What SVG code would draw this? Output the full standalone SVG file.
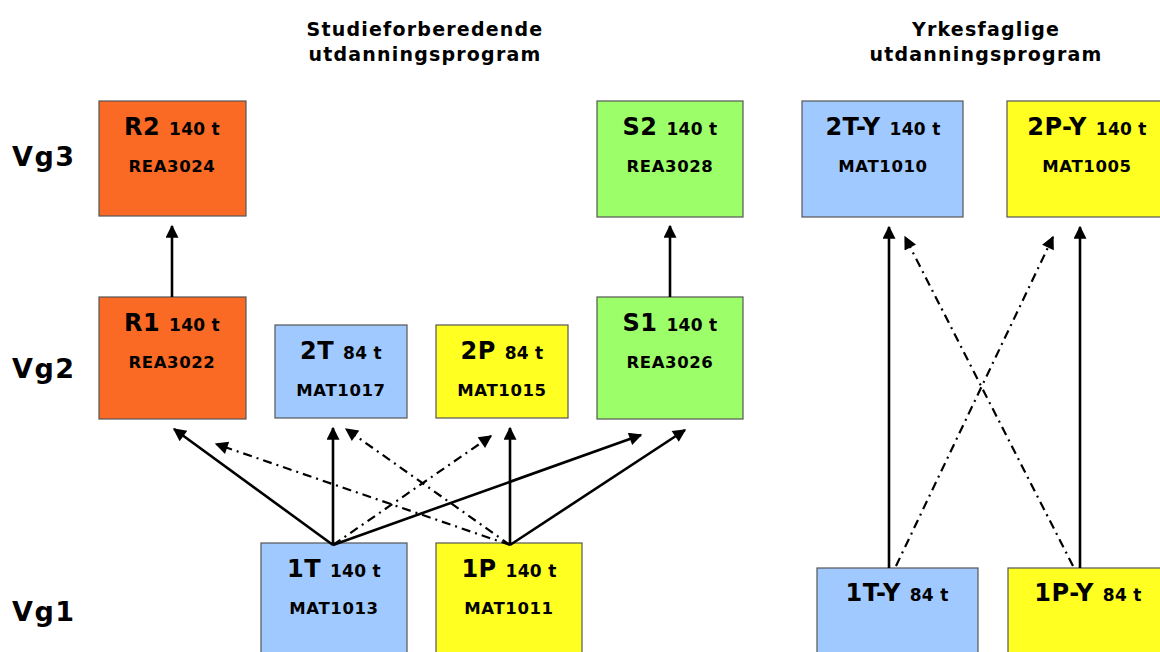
<svg xmlns="http://www.w3.org/2000/svg" width="1160" height="652" viewBox="0 0 1160 652">
<style>
text{font-family:"DejaVu Sans",Verdana,sans-serif;font-weight:bold;fill:#000}
.box{stroke:#555;stroke-width:1.2}
.or{fill:#FA6A24}.bl{fill:#A0C9FF}.ye{fill:#FFFF22}.gr{fill:#9CFF6A}
.t{font-size:24px;text-anchor:middle;letter-spacing:0.5px}
.h{font-size:17px;letter-spacing:0.3px}
.c{font-size:16.5px;text-anchor:middle;letter-spacing:0.6px}
.hd{font-size:19px;text-anchor:middle;letter-spacing:1.2px}
.vg{font-size:27px;letter-spacing:1.5px}
.s{stroke:#000;stroke-width:2.6;fill:none;marker-end:url(#ah)}
.d{stroke:#000;stroke-width:2.2;fill:none;stroke-dasharray:9 5 2 5;marker-end:url(#ah)}
</style>
<defs>
<marker id="ah" viewBox="0 0 10 10" refX="9" refY="5" markerWidth="15" markerHeight="13" markerUnits="userSpaceOnUse" orient="auto"><path d="M0,0 L10,5 L0,10 z" fill="#000"/></marker>
</defs>
<rect width="1160" height="652" fill="#fff"/>
<text class="hd" x="425" y="36">Studieforberedende</text>
<text class="hd" x="425" y="61">utdanningsprogram</text>
<text class="hd" x="986" y="36">Yrkesfaglige</text>
<text class="hd" x="986" y="61">utdanningsprogram</text>
<text class="vg" x="12" y="166">Vg3</text>
<text class="vg" x="12" y="378">Vg2</text>
<text class="vg" x="12" y="621">Vg1</text>
<g id="R2"><rect class="box or" x="99" y="101" width="147" height="115"/><text class="t" x="172" y="135">R2 <tspan class="h">140 t</tspan></text><text class="c" x="172" y="172">REA3024</text></g>
<g id="S2"><rect class="box gr" x="597" y="101" width="146" height="116"/><text class="t" x="670" y="135">S2 <tspan class="h">140 t</tspan></text><text class="c" x="670" y="172">REA3028</text></g>
<g id="R1"><rect class="box or" x="99" y="297" width="147" height="122"/><text class="t" x="172" y="331">R1 <tspan class="h">140 t</tspan></text><text class="c" x="172" y="368">REA3022</text></g>
<g id="T2"><rect class="box bl" x="275" y="325" width="132" height="93"/><text class="t" x="341" y="359">2T <tspan class="h">84 t</tspan></text><text class="c" x="341" y="396">MAT1017</text></g>
<g id="P2"><rect class="box ye" x="436" y="325" width="132" height="93"/><text class="t" x="502" y="359">2P <tspan class="h">84 t</tspan></text><text class="c" x="502" y="396">MAT1015</text></g>
<g id="S1"><rect class="box gr" x="597" y="297" width="146" height="122"/><text class="t" x="670" y="331">S1 <tspan class="h">140 t</tspan></text><text class="c" x="670" y="368">REA3026</text></g>
<g id="T1"><rect class="box bl" x="261" y="543" width="146" height="120"/><text class="t" x="334" y="577">1T <tspan class="h">140 t</tspan></text><text class="c" x="334" y="614">MAT1013</text></g>
<g id="P1"><rect class="box ye" x="436" y="543" width="146" height="120"/><text class="t" x="509" y="577">1P <tspan class="h">140 t</tspan></text><text class="c" x="509" y="614">MAT1011</text></g>
<g id="T2Y"><rect class="box bl" x="802" y="101" width="161" height="116"/><text class="t" x="883" y="135">2T-Y <tspan class="h">140 t</tspan></text><text class="c" x="883" y="172">MAT1010</text></g>
<g id="P2Y"><rect class="box ye" x="1007" y="101" width="160" height="116"/><text class="t" x="1087" y="135">2P-Y <tspan class="h">140 t</tspan></text><text class="c" x="1087" y="172">MAT1005</text></g>
<g id="T1Y"><rect class="box bl" x="817" y="568" width="161" height="100"/><text class="t" x="897" y="601">1T-Y <tspan class="h">84 t</tspan></text></g>
<g id="P1Y"><rect class="box ye" x="1008" y="568" width="160" height="100"/><text class="t" x="1088" y="601">1P-Y <tspan class="h">84 t</tspan></text></g>
<g id="connectors">
<path class="s" d="M172,297 L172,226"/>
<path class="s" d="M670,297 L670,226"/>
<path class="s" d="M333,545 L174,429"/>
<path class="s" d="M333,545 L333,428"/>
<path class="s" d="M333,545 L641,435"/>
<path class="d" d="M333,545 L491,436"/>
<path class="s" d="M510,545 L510,428"/>
<path class="s" d="M510,545 L685,430"/>
<path class="d" d="M510,545 L216,444"/>
<path class="d" d="M510,545 L346,429"/>
<path class="s" d="M889,568 L889,227"/>
<path class="s" d="M1080,568 L1080,227"/>
<path class="d" d="M896,566 L1053,237"/>
<path class="d" d="M1073,566 L905,237"/>
</g>
</svg>
